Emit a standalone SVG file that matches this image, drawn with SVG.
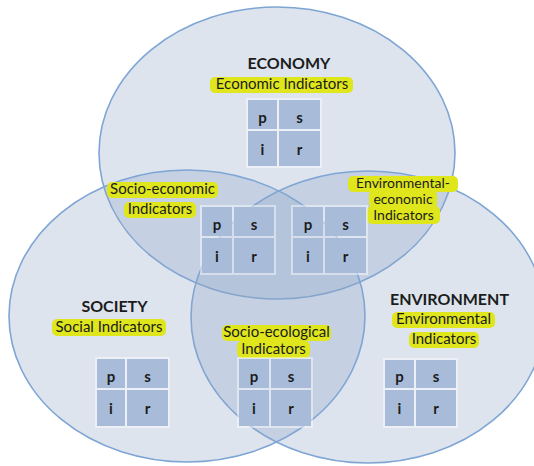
<svg xmlns="http://www.w3.org/2000/svg" width="534" height="466" viewBox="0 0 534 466">
<style>
.sphere{fill:#8ea5c6;fill-opacity:0.3;stroke:#7ea5d4;stroke-width:1.6}
.hl{fill:#dfe61c}
.lbl{font-family:Lato,"Liberation Sans",sans-serif;font-size:15px;fill:#1c1c1c;text-anchor:middle}
.sm{font-size:14px}
.head{font-family:Lato,"Liberation Sans",sans-serif;font-size:16px;font-weight:bold;fill:#1c1c1c;text-anchor:middle}
.frame{fill:#ffffff;fill-opacity:0.45}
.cell{fill:#a8bcda}
.let{font-family:Lato,"Liberation Sans",sans-serif;font-size:15px;font-weight:bold;fill:#1c1c1c;text-anchor:middle}
</style>
<rect width="534" height="466" fill="#ffffff"/>
<g id="spheres">
<ellipse class="sphere" cx="277" cy="153" rx="178" ry="146"/>
<ellipse class="sphere" cx="368" cy="317" rx="177" ry="146"/>
<ellipse class="sphere" cx="187" cy="316" rx="178" ry="146"/>
</g>

<g id="economy">
<text class="head" x="289" y="69">ECONOMY</text>
<rect class="hl" x="210" y="77" width="143" height="16" rx="5"/>
<text class="lbl" x="282" y="89">Economic Indicators</text>
<rect class="frame" x="246" y="98" width="76" height="70"/>
<rect class="cell" x="248" y="100" width="29" height="29"/>
<rect class="cell" x="279" y="100" width="41" height="29"/>
<rect class="cell" x="248" y="131" width="29" height="35"/>
<rect class="cell" x="279" y="131" width="41" height="35"/>
<text class="let" x="262.5" y="123">p</text>
<text class="let" x="299.5" y="123">s</text>
<text class="let" x="262.5" y="155">i</text>
<text class="let" x="299.5" y="155">r</text>
</g>

<g id="socio-economic">
<rect class="hl" x="107" y="182" width="111" height="16" rx="5"/>
<text class="lbl" x="162.5" y="194">Socio-economic</text>
<rect class="hl" x="124" y="202" width="72" height="16" rx="5"/>
<text class="lbl" x="160" y="214">Indicators</text>
<rect class="frame" x="200" y="205" width="76" height="70"/>
<rect class="cell" x="202" y="207" width="30" height="29"/>
<rect class="cell" x="234" y="207" width="40" height="29"/>
<rect class="cell" x="202" y="238" width="30" height="35"/>
<rect class="cell" x="234" y="238" width="40" height="35"/>
<text class="let" x="217" y="230">p</text>
<text class="let" x="254" y="230">s</text>
<text class="let" x="217" y="262">i</text>
<text class="let" x="254" y="262">r</text>
</g>

<g id="environmental-economic">
<rect class="hl" x="348" y="176" width="110" height="16" rx="5"/>
<rect class="hl" x="369" y="191" width="68" height="16" rx="4"/>
<rect class="hl" x="367" y="206" width="73" height="18" rx="5"/>
<text class="lbl sm" x="403" y="188">Environmental-</text>
<text class="lbl sm" x="403" y="204">economic</text>
<text class="lbl sm" x="403.5" y="220">Indicators</text>
<rect class="frame" x="291" y="205" width="77" height="70"/>
<rect class="cell" x="293" y="207" width="30" height="29"/>
<rect class="cell" x="325" y="207" width="41" height="29"/>
<rect class="cell" x="293" y="238" width="30" height="35"/>
<rect class="cell" x="325" y="238" width="41" height="35"/>
<text class="let" x="308" y="230">p</text>
<text class="let" x="345.5" y="230">s</text>
<text class="let" x="308" y="262">i</text>
<text class="let" x="345.5" y="262">r</text>
</g>

<g id="society">
<text class="head" x="114.5" y="312">SOCIETY</text>
<rect class="hl" x="52" y="319" width="114" height="17" rx="5"/>
<text class="lbl" x="109" y="332">Social Indicators</text>
<rect class="frame" x="95" y="357" width="75" height="71"/>
<rect class="cell" x="97" y="359" width="28" height="29"/>
<rect class="cell" x="127" y="359" width="41" height="29"/>
<rect class="cell" x="97" y="390" width="28" height="36"/>
<rect class="cell" x="127" y="390" width="41" height="36"/>
<text class="let" x="111" y="382">p</text>
<text class="let" x="147.5" y="382">s</text>
<text class="let" x="111" y="414">i</text>
<text class="let" x="147.5" y="414">r</text>
</g>

<g id="socio-ecological">
<rect class="hl" x="222" y="325" width="109" height="16" rx="5"/>
<rect class="hl" x="237" y="341" width="73" height="17" rx="5"/>
<text class="lbl" x="276.5" y="337">Socio-ecological</text>
<text class="lbl" x="273.5" y="354">Indicators</text>
<rect class="frame" x="237" y="357" width="76" height="71"/>
<rect class="cell" x="239" y="359" width="30" height="29"/>
<rect class="cell" x="271" y="359" width="40" height="29"/>
<rect class="cell" x="239" y="390" width="30" height="36"/>
<rect class="cell" x="271" y="390" width="40" height="36"/>
<text class="let" x="254" y="382">p</text>
<text class="let" x="291" y="382">s</text>
<text class="let" x="254" y="414">i</text>
<text class="let" x="291" y="414">r</text>
</g>

<g id="environment">
<text class="head" x="449.5" y="305">ENVIRONMENT</text>
<rect class="hl" x="392" y="312" width="103" height="16" rx="5"/>
<text class="lbl" x="443.5" y="324">Environmental</text>
<rect class="hl" x="409" y="332" width="70" height="16" rx="5"/>
<text class="lbl" x="444" y="344">Indicators</text>
<rect class="frame" x="383" y="358" width="75" height="70"/>
<rect class="cell" x="385" y="360" width="29" height="28"/>
<rect class="cell" x="416" y="360" width="40" height="28"/>
<rect class="cell" x="385" y="390" width="29" height="36"/>
<rect class="cell" x="416" y="390" width="40" height="36"/>
<text class="let" x="399.5" y="382">p</text>
<text class="let" x="436" y="382">s</text>
<text class="let" x="399.5" y="414">i</text>
<text class="let" x="436" y="414">r</text>
</g>
</svg>
